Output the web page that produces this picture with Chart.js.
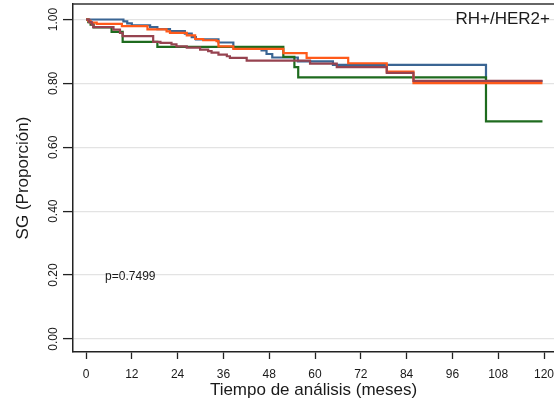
<!DOCTYPE html>
<html>
<head>
<meta charset="utf-8">
<script src="https://cdn.jsdelivr.net/npm/chart.js@4.4.1/dist/chart.umd.min.js"></script>
<style>
  body { margin: 0; background: #fff; }
  #wrap { width: 554px; height: 402px; }
</style>
</head>
<body>
<div id="wrap"><canvas id="km" width="554" height="402"></canvas></div>
<script>
// Tick labels
const xTicks = [0, 12, 24, 36, 48, 60, 72, 84, 96, 108, 120];
const yTicks = [0, 0.2, 0.4, 0.6, 0.8, 1.0];

// Kaplan-Meier steps (time in months, survival)
const blueT = [0, 9.8, 10.8, 12.0, 16.8, 18.7, 22.0, 25.9, 27.7, 28.8, 34.7, 38.6, 46.0, 47.3, 48.8, 55.5, 64.7, 104.8, 119.6];
const blueS = [1, 0.994, 0.988, 0.982, 0.976, 0.970, 0.964, 0.956, 0.945, 0.938, 0.928, 0.913, 0.903, 0.892, 0.881, 0.869, 0.858, 0.807, 0.807];

const greenT = [0, 0.6, 1.2, 2.0, 6.7, 9.6, 18.7, 51.7, 54.6, 55.6, 104.8, 119.6];
const greenS = [1, 0.992, 0.984, 0.975, 0.961, 0.930, 0.914, 0.883, 0.851, 0.819, 0.681, 0.681];

const orangeT = [0, 0.6, 1.2, 2.8, 9.4, 16.1, 21.1, 22.0, 26.4, 28.6, 30.7, 34.2, 34.7, 38.6, 51.7, 57.8, 68.7, 78.8, 85.8, 119.6];
const orangeS = [1, 0.996, 0.990, 0.986, 0.979, 0.969, 0.963, 0.958, 0.950, 0.939, 0.935, 0.932, 0.916, 0.908, 0.895, 0.880, 0.863, 0.837, 0.801, 0.801];

const redT = [0, 0.8, 1.5, 1.9, 7.2, 8.9, 9.6, 17.6, 19.5, 22.4, 23.7, 26.4, 29.9, 32.0, 32.9, 34.7, 36.9, 37.7, 42.1, 58.7, 65.7, 78.8, 85.8, 119.6];
const redS = [1, 0.992, 0.984, 0.976, 0.968, 0.958, 0.948, 0.930, 0.927, 0.922, 0.916, 0.912, 0.906, 0.901, 0.896, 0.890, 0.885, 0.880, 0.871, 0.862, 0.851, 0.833, 0.808, 0.808];

const pText = 'p=0.7499';
const groupTitle = 'RH+/HER2+';

function pts(t, s) {
    return t.map((v, i) => ({ x: v, y: s[i] }));
}

function line(t, s, color) {
    return {
        data: pts(t, s),
        borderColor: color,
        borderWidth: 2.2,
        pointRadius: 0,
        stepped: 'before',
        fill: false
    };
}

// extra text + top frame line
const extras = {
    id: 'extras',
    afterDraw(chart) {
        const ctx = chart.ctx;
        const a = chart.chartArea;
        const xs = chart.scales.x, ys = chart.scales.y;
        ctx.save();
        ctx.strokeStyle = '#333';
        ctx.lineWidth = 1.5;
        ctx.beginPath();
        ctx.moveTo(a.left, a.top);
        ctx.lineTo(a.right, a.top);
        ctx.stroke();

        ctx.fillStyle = '#1a1a1a';
        ctx.font = '12px "Liberation Sans", Arial, sans-serif';
        ctx.textAlign = 'left';
        ctx.textBaseline = 'middle';
        ctx.fillText(pText, xs.getPixelForValue(5), ys.getPixelForValue(0.195));

        ctx.font = '17px "Liberation Sans", Arial, sans-serif';
        ctx.textAlign = 'right';
        ctx.fillText(groupTitle, a.right - 4, ys.getPixelForValue(1.0));
        ctx.restore();
    }
};

new Chart(document.getElementById('km'), {
    type: 'line',
    data: {
        datasets: [
            line(redT, redS, '#964350'),
            line(orangeT, orangeS, '#ff5a1a'),
            line(greenT, greenS, '#1e6b1e'),
            line(blueT, blueS, '#3a6593')
        ]
    },
    options: {
        responsive: false,
        animation: false,
        layout: { padding: { top: 4, right: 0, left: 0, bottom: 0 } },
        plugins: {
            legend: { display: false },
            tooltip: { enabled: false }
        },
        scales: {
            x: {
                type: 'linear',
                min: -3.41,
                max: 122.62,
                afterBuildTicks: s => { s.ticks = xTicks.map(v => ({ value: v })); },
                afterFit: s => { s.height = 50; s.paddingLeft = 0; s.paddingRight = 0; },
                grid: { drawOnChartArea: false, tickLength: 7, tickColor: '#222', tickWidth: 1.3 },
                border: { color: '#222', width: 1.5 },
                ticks: {
                    maxRotation: 0,
                    padding: 8,
                    color: '#1a1a1a',
                    font: { family: '"Liberation Sans", Arial, sans-serif', size: 12 }
                },
                title: {
                    display: true,
                    text: 'Tiempo de análisis (meses)',
                    color: '#1a1a1a',
                    font: { family: '"Liberation Sans", Arial, sans-serif', size: 17 },
                    padding: { top: 0, bottom: 1 }
                }
            },
            y: {
                type: 'linear',
                min: -0.0407,
                max: 1.0485,
                afterBuildTicks: s => { s.ticks = yTicks.map(v => ({ value: v })); },
                afterFit: s => { s.width = 73; s.paddingTop = 0; s.paddingBottom = 0; },
                grid: { color: '#e3e3e3', lineWidth: 1.2, tickLength: 10, tickColor: '#222', tickWidth: 1.3 },
                border: { color: '#222', width: 1.5 },
                ticks: {
                    minRotation: 90,
                    maxRotation: 90,
                    crossAlign: 'center',
                    padding: -2,
                    color: '#1a1a1a',
                    font: { family: '"Liberation Sans", Arial, sans-serif', size: 12 },
                    callback: v => v.toFixed(2)
                },
                title: {
                    display: true,
                    text: 'SG (Proporción)',
                    color: '#1a1a1a',
                    font: { family: '"Liberation Sans", Arial, sans-serif', size: 17 },
                    padding: { top: 13, bottom: 0 }
                }
            }
        }
    },
    plugins: [extras]
});
</script>
</body>
</html>
